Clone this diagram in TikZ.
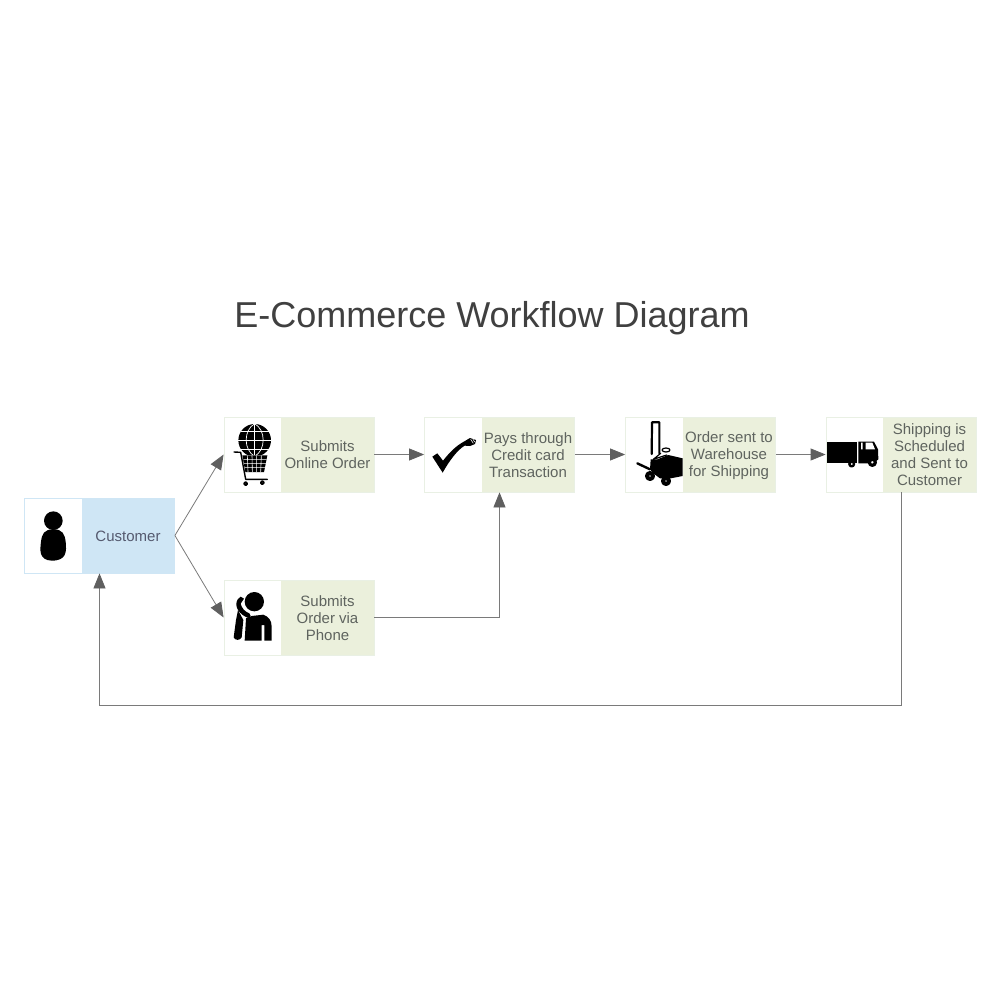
\documentclass[tikz,border=0pt]{standalone}
\usepackage{fontspec}
\setmainfont{Liberation Sans}
\usetikzlibrary{arrows.meta}
\definecolor{greenfill}{HTML}{EBF0DC}
\definecolor{bluefill}{HTML}{CFE6F5}
\definecolor{greenedge}{HTML}{E9F0E4}
\definecolor{blueedge}{HTML}{CFE6F5}
\definecolor{labelc}{HTML}{5F645F}
\definecolor{linec}{HTML}{7A7A7A}
\definecolor{tipc}{HTML}{5F5F5F}
\tikzset{
  card/.style={draw=greenedge,fill=white,line width=0.4pt,minimum width=75pt,minimum height=37.5pt,inner sep=0pt,
    path picture={\fill[greenfill] ([xshift=-46.5pt]path picture bounding box.north east) rectangle (path picture bounding box.south east);}},
  bluecard/.style={draw=blueedge,fill=white,line width=0.4pt,minimum width=75pt,minimum height=37.5pt,inner sep=0pt,
    path picture={\fill[bluefill] ([xshift=-46.5pt]path picture bounding box.north east) rectangle (path picture bounding box.south east);}},
  label/.style={text=labelc,font=\fontsize{7.5}{8.5}\selectfont,align=center,minimum width=46.5pt,inner sep=0pt,anchor=east},
  lowlabel/.style={label,yshift=-0.5pt},
  bluelabel/.style={lowlabel,text=labelc!90!blue},
  link/.style={draw=linec,line width=0.4pt,-{Triangle[length=7.5pt,width=6pt,color=tipc]}},
  ink/.style={fill=black,draw=none},
  inkline/.style={draw=black,fill=none,line cap=round,line join=round},
  cropunits/.style={x=0.16667pt,y=-0.16667pt},
}
\begin{document}
\begin{tikzpicture}[x=0.5pt,y=-0.5pt]
\useasboundingbox (0,0) rectangle (1000,1000);
\fill[white] (0,0) rectangle (1000,1000);
\node (title) at (492,318) [text=black!75,font=\fontsize{18}{20}\selectfont] {E-Commerce Workflow Diagram};
% cards
\node[bluecard] (customer) at (99.5,535.5) {};
\node[card] (online) at (299,454.5) {};
\node[card] (phone) at (299,617.5) {};
\node[card] (pay) at (499.5,454.5) {};
\node[card] (warehouse) at (700.5,454.5) {};
\node[card] (ship) at (901,454.5) {};
\node[bluelabel] (customerT) at (customer.east) {Customer};
\node[label] (onlineT) at (online.east) {Submits\\Online Order};
\node[lowlabel] (phoneT) at (phone.east) {Submits\\Order via\\Phone};
\node[lowlabel] (payT) at (pay.east) {Pays through\\Credit card\\Transaction};
\node[lowlabel] (warehouseT) at (warehouse.east) {Order sent to\\Warehouse\\for Shipping};
\node[label] (shipT) at (ship.east) {Shipping is\\Scheduled\\and Sent to\\Customer};
% connectors
\coordinate (loop) at (500,705.2);
\draw[link] (customer.east) -- (online.west);
\draw[link] (customer.east) -- (phone.west);
\draw[link] (online.east) -- (pay.west);
\draw[link] (pay.east) -- (warehouse.west);
\draw[link] (warehouse.east) -- (ship.west);
\draw[link] (phone.east) -| (pay.south);
\draw[link] (ship.south) |- (loop) -| (customer.south);
% icons, in the coordinates of 3x crops
\begin{scope}[shift={(10,410)},cropunits]
  % person
  \fill[ink] (130,332) circle (28);
  \fill[ink] (130,358) .. controls (102,358) and (96,372) .. (93,395)
     .. controls (90,420) and (86,450) .. (125,452)
     .. controls (170,452) and (170,425) .. (167,395)
     .. controls (164,372) and (158,358) .. (130,358) -- cycle;
  % globe
  \begin{scope}
    \clip (660,30) rectangle (800,132);
    \fill[ink] (734,91) circle (49);
    \draw[white,line width=0.35pt] (734,41) -- (734,139) (685,91) -- (783,91)
       (692,65) -- (776,65) (692,117) -- (776,117);
    \draw[white,line width=0.35pt] (734,41) .. controls (700,60) and (700,120) .. (734,139)
       (734,41) .. controls (768,60) and (768,120) .. (734,139);
  \end{scope}
  % cart
  \draw[inkline,line width=0.7pt] (672,126) -- (692,127) -- (707,208) -- (772,208);
  \fill[ink] (697,136) -- (772,136) -- (762,186) -- (706,186) -- cycle;
  \draw[white,line width=0.3pt] (700,148) -- (770,148) (702,160) -- (768,160) (704,173) -- (765,173)
     (712,136) -- (714,186) (726,136) -- (727,186) (740,136) -- (740,186) (754,136) -- (752,186);
  \draw[inkline,line width=0.9pt,fill=white] (707,221) circle (5);
  \draw[inkline,line width=0.9pt,fill=white] (757,218) circle (5);
  % person on phone
  \fill[ink] (708,625) -- (725,618) -- (760,614) .. controls (775,620) and (785,630) .. (785,650)
     -- (785,692) -- (763,692) -- (763,645) -- (755,645) -- (755,692) -- (704,692) -- cycle;
  \fill[ink] (684,600) -- (700,630) -- (695,682)
     .. controls (690,692) and (675,692) .. (671,682) -- (678,630) -- cycle;
  \fill[ink] (733,575) circle (29);
  \draw[white,line width=0.5pt] (702,562) .. controls (695,585) and (705,605) .. (726,612);
  \fill[ink] (692,560) -- (702,566) -- (692,581) .. controls (695,595) and (705,605) .. (718,610)
     -- (722,618) -- (715,624) .. controls (690,615) and (670,590) .. (683,568) -- cycle;
\end{scope}
\begin{scope}[shift={(420,410)},cropunits]
  % check mark with plug
  \fill[ink] (37,140) -- (52,130) -- (69,152) .. controls (88,128) and (108,108) .. (128,97)
     -- (150,84) -- (168,90) -- (165,102) -- (150,108) -- (134,107)
     .. controls (112,120) and (88,152) .. (68,188) -- cycle;
  \draw[white,line width=0.25pt] (152,88) -- (160,100) (158,86) -- (164,96);
  % forklift
  \draw[inkline,line width=1.1pt] (695,132) -- (696,37) -- (718,37) -- (718,130);
  \fill[ink] (690,178) -- (692,148) -- (712,148) -- (745,135) -- (788,145) -- (788,198)
     -- (752,205) -- (720,205) -- (700,190) -- cycle;
  \draw[inkline,line width=0.6pt] (738,120) ellipse (12 and 6) (722,130) -- (700,148) -- (740,135);
  \draw[inkline,line width=1.2pt] (652,160) -- (690,178);
  \draw[inkline,line width=2pt,fill=white] (690,198) circle (9);
  \draw[inkline,line width=2pt,fill=white] (738,213) circle (9);
\end{scope}
\begin{scope}[shift={(690,410)},cropunits]
  % truck
  \fill[ink] (410,95) rectangle (500,160);
  \fill[ink] (505,95) -- (552,95) -- (564,118) -- (565,148) -- (550,160) -- (505,160) -- cycle;
  \fill[white] (513,98) rectangle (518,118) (527,98) -- (547,98) -- (555,118) -- (527,118) -- cycle;
  \draw[inkline,line width=1.2pt,fill=white] (485,162) circle (7);
  \draw[inkline,line width=1.6pt,fill=white] (547,157) circle (9);
\end{scope}
\end{tikzpicture}
\end{document}
